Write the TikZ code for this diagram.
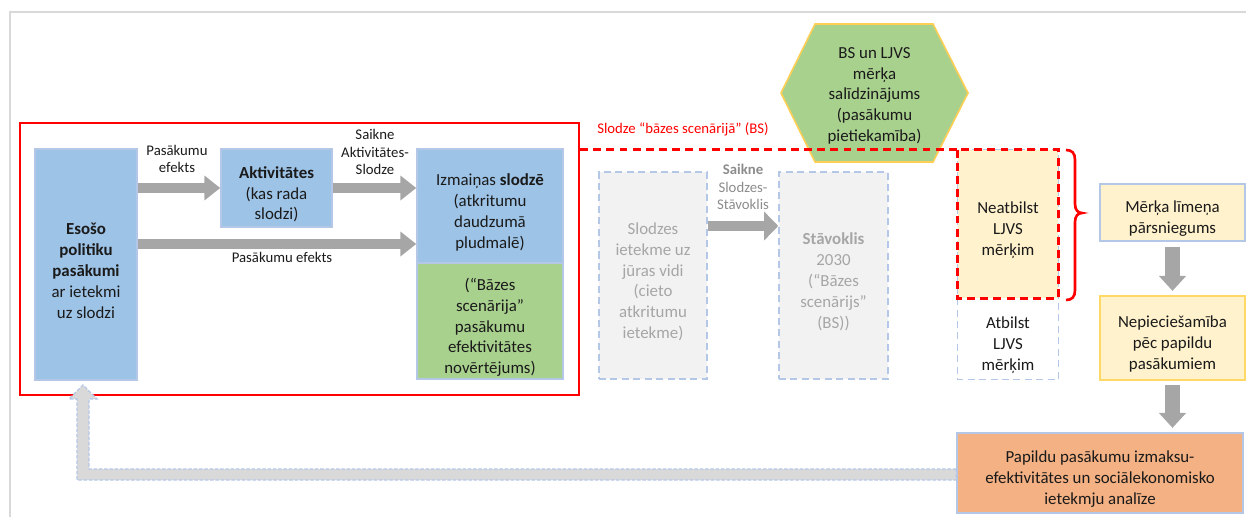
\documentclass[tikz,border=0pt]{standalone}
\usepackage{fontspec}
\setmainfont{Carlito}
\usetikzlibrary{arrows.meta,fit,calc}
\definecolor{bluef}{HTML}{9DC3E6}
\definecolor{blueb}{HTML}{B4C7E7}
\definecolor{greenf}{HTML}{A9D18E}
\definecolor{grayf}{HTML}{F2F2F2}
\definecolor{grayt}{HTML}{A6A6A6}
\definecolor{labgray}{HTML}{8C8C8C}
\definecolor{arrowg}{HTML}{A6A6A6}
\definecolor{creamf}{HTML}{FFF2CC}
\definecolor{yellowb}{HTML}{FFD966}
\definecolor{orangef}{HTML}{F4B183}
\definecolor{goldb}{HTML}{FFCF55}
\definecolor{framec}{HTML}{D9D9D9}
\definecolor{txt}{HTML}{1A1A1A}
\begin{document}
\begin{tikzpicture}[x=0.02cm,y=-0.02cm,
  every node/.style={font=\fontsize{9.6}{11.9}\selectfont, align=center, inner sep=0pt, text=txt},
  bluebox/.style={draw=blueb, line width=0.85pt},
  dashbox/.style={draw=blueb, line width=0.85pt, dash pattern=on 4pt off 2.5pt},
  tx/.style={yshift=-3.6pt},
  lab/.style={font=\fontsize{8.4}{10}\selectfont},
  garrow/.style={draw=arrowg, line width=5.7pt, -{Triangle[width=13.6pt,length=9pt]}},
  garrowb/.style={draw=arrowg, line width=6.2pt, -{Triangle[width=15.9pt,length=8pt]}},
  darrow/.style={draw=arrowg, line width=8pt, -{Triangle[width=15pt,length=8.5pt]}},
  reddash/.style={draw=red, line width=1.7pt, dash pattern=on 4.5pt off 3pt}
]
\useasboundingbox (0,0) rectangle (1246,517);
% frame
\draw[framec, line width=1.2pt] (10,517) -- (10,12) -- (1246,12);

% red solid box
\node[draw=red, line width=1.1pt, fit={(20,123)(579,395)}] (redbox) {};

% left group
\node[bluebox, fill=bluef, fit={(35,149)(137,380)}] (esoso) {};
\node[tx] (esoso-t) at (esoso.center)
  {\textbf{Esošo}\\\textbf{politiku}\\\textbf{pasākumi}\\ar ietekmi\\uz slodzi};
\node[bluebox, fill=bluef, fit={(221,149)(332,227)}] (akt) {};
\node[tx] (akt-t) at (akt.center) {\textbf{Aktivitātes}\\(kas rada\\slodzi)};
\node[bluebox, fill=bluef, fit={(417,149)(563,263)}] (izm) {};
\node[tx] (izm-t) at (izm.center) {Izmaiņas \textbf{slodzē}\\(atkritumu\\daudzumā\\pludmalē)};
\node[bluebox, fill=greenf, fit={(417,263)(563,379)}] (bazes) {};
\node[tx] (bazes-t) at (bazes.center)
  {(“Bāzes\\scenārija”\\pasākumu\\efektivitātes\\novērtējums)};

\coordinate (a3) at (0,244);
\draw[garrow] (esoso.east |- akt.west) -- (akt.west);
\draw[garrow] (akt.east) -- (izm.west |- akt.east);
\draw[garrow] (esoso.east |- a3) -- (izm.west |- a3);

\node[lab] (l1) at (177,159) {Pasākumu\\efekts};
\node[lab] (l2) at (375,152) {Saikne\\Aktivitātes-\\Slodze};
\node[lab] (l3) at (282,257) {Pasākumu efekts};

% hexagon
\draw[goldb, line width=0.9pt, fill=greenf] (781,93) -- (815,24) -- (933,24) -- (968,93) -- (933,162) -- (815,162) -- cycle;
\node[yshift=-1.6pt] (hex) at (874.5,93) {BS un LJVS\\mērķa\\salīdzinājums\\(pasākumu\\pietiekamība)};

% gray boxes
\node[dashbox, fill=grayf, fit={(599,172)(707,379)}] (slodzes) {};
\node[tx, text=grayt] (slodzes-t) at (slodzes.center)
  {Slodzes\\ietekme uz\\jūras vidi\\(cieto\\atkritumu\\ietekme)};
\node[dashbox, fill=grayf, fit={(779,172)(888,379)}] (stav) {};
\node[tx, text=grayt] (stav-t) at (stav.center)
  {\textbf{Stāvoklis}\\2030\\(“Bāzes\\scenārijs”\\(BS))};
\coordinate (a4) at (0,226);
\draw[garrowb] (slodzes.east |- a4) -- (stav.west |- a4);
\node[lab, text=labgray] (l4) at (743,187) {\textbf{Saikne}\\Slodzes-\\Stāvoklis};

% Neatbilst / Atbilst
\node[fit={(958,150)(1058,298)}, fill=creamf] (neat) {};
\node[tx] (neat-t) at (neat.center) {Neatbilst\\LJVS\\mērķim};
\node[fit={(958,298)(1058,379)}] (atb) {};
\node[tx] (atb-t) at (atb.center) {Atbilst\\LJVS\\mērķim};
\draw[dashbox] (neat.north west) rectangle (atb.south east);

% red dashed
\node[lab, text=red] (redlab) at (683,129) {Slodze “bāzes scenārijā” (BS)};
\draw[reddash] (redbox.east |- neat.north) -- (neat.north west);
\draw[reddash] (neat.north west) rectangle (neat.south east);

% brace
\draw[red, line width=1.5pt] (1066,150) .. controls (1072,150) and (1075,153) .. (1075,160) -- (1075,204)
  .. controls (1075,210) and (1078,213) .. (1082,213)
  .. controls (1078,213) and (1075,216) .. (1075,222) -- (1075,290)
  .. controls (1075,297) and (1072,300) .. (1066,300);

% right column
\node[bluebox, fill=creamf, fit={(1100,184)(1245,241)}] (merka) {};
\node[tx] (merka-t) at (merka.center) {Mērķa līmeņa\\pārsniegums};
\node[draw=yellowb, line width=0.85pt, fill=creamf, fit={(1100,296)(1245,380)}] (nep) {};
\node[tx] (nep-t) at (nep.center) {Nepieciešamība\\pēc papildu\\pasākumiem};
\node[bluebox, fill=orangef, fit={(957,433)(1243,513)}] (orange) {};
\node[tx] (orange-t) at (orange.center)
  {Papildu pasākumu izmaksu-\\efektivitātes un sociālekonomisko\\ietekmju analīze};
\draw[darrow, shorten <=2.8pt, shorten >=2.5pt] (merka.south) -- (nep.north);
\draw[darrow, shorten <=2.5pt, shorten >=2.5pt] (nep.south) -- (nep.south |- orange.north);

% feedback arrow
\draw[fill=framec, draw=blueb, line width=0.7pt, dash pattern=on 2pt off 1pt]
  (orange.west |- 0,469) -- (89,469) -- (89,399) -- (97,399) -- (83,385) -- (69,399) -- (77,399)
  -- (77,480) -- (orange.west |- 0,480) -- cycle;
\end{tikzpicture}
\end{document}
